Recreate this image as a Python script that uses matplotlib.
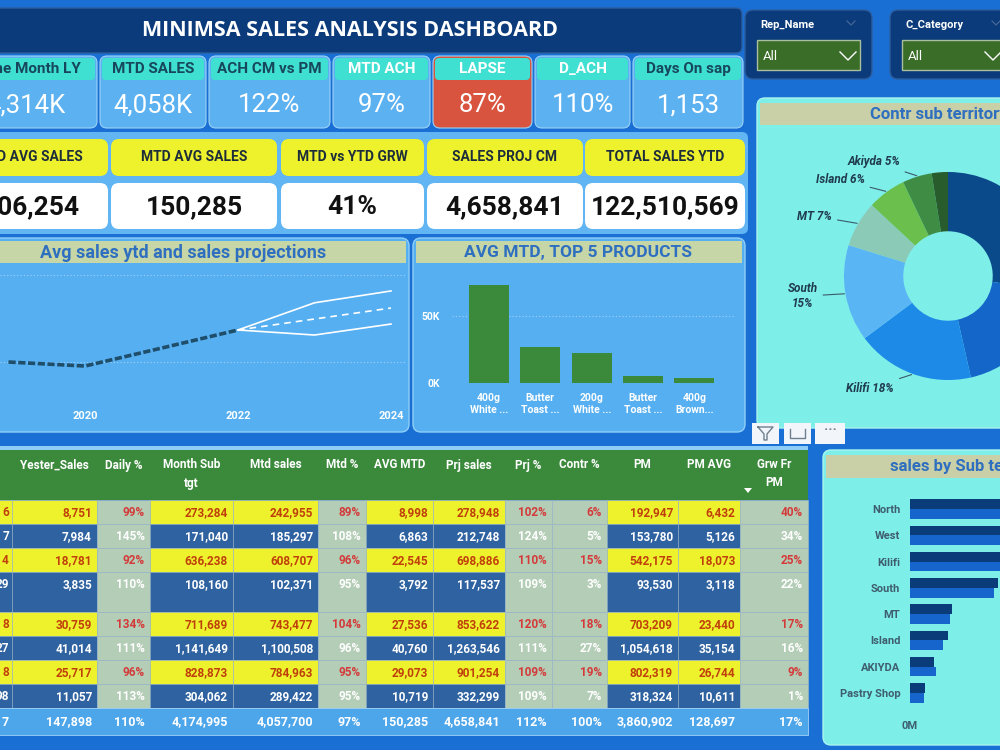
import matplotlib
matplotlib.use("Agg")
import matplotlib.pyplot as plt
from matplotlib.patches import FancyBboxPatch, Polygon
from matplotlib.lines import Line2D
from matplotlib.transforms import Affine2D
import numpy as np

plt.rcParams['font.family'] = ['Roboto', 'DejaVu Sans']

# ---------------- data ----------------
kpi_titles = ["Same Month LY", "MTD SALES", "ACH CM vs PM", "MTD ACH", "LAPSE", "D_ACH", "Days On sap"]
kpi_values = ["4,314K", "4,058K", "122%", "97%", "87%", "110%", "1,153"]

kpi2_titles = ["YTD AVG SALES", "MTD AVG SALES", "MTD vs YTD GRW", "SALES PROJ CM", "TOTAL SALES YTD"]
kpi2_values = ["106,254", "150,285", "41%", "4,658,841", "122,510,569"]

# avg sales ytd (K) and projection band
years = [2019, 2020, 2021, 2022]
avg_sales_ytd = [50.0, 47.7, 58.0, 68.4]
proj_years = [2022, 2023, 2024]
proj_upper = [68.4, 84.0, 90.8]
proj_mid = [68.4, 74.7, 81.0]
proj_lower = [68.4, 65.5, 71.8]
line_ticks = [2020, 2022, 2024]

products = ["400g\nWhite ...", "Butter\nToast ...", "200g\nWhite ...", "Butter\nToast ...", "400g\nBrown..."]
avg_mtd_top5 = [73200, 27000, 22800, 5300, 4000]

# table rows (sub territories in table order)
territory = ["Island", "AKIYDA", "South", "Pastry Shop", "Kilifi", "North", "West", "MT"]
donut_name = {"Island": "Island", "AKIYDA": "Akiyda", "South": "South", "Pastry Shop": "Pastry Shop",
              "Kilifi": "Kilifi", "North": "North", "West": "West", "MT": "MT"}
first_col_cut = ["6", "7", "4", "29", "8", "27", "8", "98"]
yester_sales = [8751, 7984, 18781, 3835, 30759, 41014, 25717, 11057]
daily_pct = [99, 145, 92, 110, 134, 111, 96, 113]
month_sub_tgt = [273284, 171040, 636238, 108160, 711689, 1141649, 828873, 304062]
mtd_sales = [242955, 185297, 608707, 102371, 743477, 1100508, 784963, 289422]
mtd_pct = [89, 108, 96, 95, 104, 96, 95, 95]
avg_mtd = [8998, 6863, 22545, 3792, 27536, 40760, 29073, 10719]
prj_sales = [278948, 212748, 698886, 117537, 853622, 1263546, 901254, 332299]
prj_pct = [102, 124, 110, 109, 120, 111, 109, 109]
contr_pct = [6, 5, 15, 3, 18, 27, 19, 7]
pm = [192947, 153780, 542175, 93530, 703209, 1054618, 802319, 318324]
pm_avg = [6432, 5126, 18073, 3118, 23440, 35154, 26744, 10611]
grw_fr_pm = [40, 34, 25, 22, 17, 16, 9, 1]
total_row = ["7", "147,898", "110%", "4,174,995", "4,057,700", "97%", "150,285",
             "4,658,841", "112%", "100%", "3,860,902", "128,697", "17%"]
table_headers = ["", "Yester_Sales", "Daily %", "Month Sub\ntgt", "Mtd sales", "Mtd %", "AVG MTD",
                 "Prj sales", "Prj %", "Contr %", "PM", "PM AVG", "Grw Fr\nPM"]

# ---------------- style ----------------
BG = '#1a6fd5'
NAVY = '#0b3b7a'
CARD = '#5cb1f1'
TURQ = '#3fe0d2'
LAPSE_RED = '#d9543f'
YEL = '#eef22c'
PANEL = '#56aff1'
STRIP = '#c7d6a6'
AQUA = '#7eeee9'
TITLE_BLUE = '#2e6fc0'
GREEN = '#3b8a3c'
SAGE = '#b4cdb6'
ROW_BLUE = '#2f62a0'
ROW_TXT = '#c0400c'
PCT_RED = '#d43a3a'

W, H = 1000, 750
fig = plt.figure(figsize=(10, 7.5), dpi=100)
fig.patch.set_facecolor(BG)
px = Affine2D().scale(1 / W, -1 / H).translate(0, 1) + fig.transFigure


def rect(x0, y0, x1, y1, fc, r=0, ec='none', lw=0, z=1):
    style = "round,pad=0,rounding_size=%s" % r if r else "square,pad=0"
    p = FancyBboxPatch((x0, y0), x1 - x0, y1 - y0, boxstyle=style, transform=px,
                       fc=fc, ec=ec, lw=lw, zorder=z)
    fig.add_artist(p)


def txt(x, y, s, size, color, weight='bold', ha='center', va='center', z=10, **kw):
    fig.text(x, y, s, transform=px, fontsize=size, color=color, fontweight=weight,
             ha=ha, va=va, zorder=z, **kw)


def poly(xs, ys, color, lw=1.2, z=11):
    fig.add_artist(Line2D(xs, ys, transform=px, color=color, lw=lw, zorder=z))


def add_ax(x0, y0, x1, y1):
    ax = fig.add_axes([x0 / W, 1 - y1 / H, (x1 - x0) / W, (y1 - y0) / H])
    ax.set_zorder(5)
    ax.patch.set_alpha(0)
    return ax


# ---------------- header ----------------
rect(-10, 8, 742, 53, NAVY, r=6, ec='#2c5e9e', lw=1)
txt(350, 31, "MINIMSA SALES ANALYSIS DASHBOARD", 15.5, 'white', family=['Open Sans', 'DejaVu Sans'])

# slicers
for (x0, x1, label) in [(745, 872, "Rep_Name"), (890, 1015, "C_Category")]:
    rect(x0, 10, x1, 79, NAVY, r=8, ec='#2c5e9e', lw=1)
    txt(x0 + 15, 25, label, 8, 'white', ha='left')
    rect(x0 + 12, 40, x0 + 115, 70, '#3a6e28', ec='#a9bfa0', lw=1, z=2)
    txt(x0 + 18, 56, "All", 9.5, 'white', weight='normal', ha='left')
    cx = x0 + 103
    poly([cx - 8, cx, cx + 8], [52, 60, 52], 'white', lw=1)
    poly([x0 + 102, x0 + 106, x0 + 110], [21, 25, 21], '#4a6a9a', lw=0.8)

# KPI row 1
cards = [(-45, 97), (100, 206), (209, 330), (333, 430), (433, 532), (535, 630), (633, 743)]
for i, (x0, x1) in enumerate(cards):
    body = LAPSE_RED if kpi_titles[i] == "LAPSE" else CARD
    rect(x0, 56, x1, 128, body, r=7, ec='#9ad3f7', lw=0.8)
    rect(x0 + 2, 58, x1 - 2, 80, TURQ, r=4, z=2)
    tcol = 'white' if i in (3, 4, 5) else '#17475a'
    txt((x0 + x1) / 2, 69, kpi_titles[i], 11, tcol)
    txt((x0 + x1) / 2, 105, kpi_values[i], 18.5, 'white', weight='normal')

# KPI row 2
rect(-10, 132, 748, 234, '#61b5f3', r=6)
boxes2 = [(-46, 108), (111, 277), (281, 424), (427, 583), (585, 745)]
for i, (x0, x1) in enumerate(boxes2):
    rect(x0, 139, x1, 176, YEL, r=8, z=2)
    txt((x0 + x1) / 2, 157, kpi2_titles[i], 10, '#1e2d3a')
    rect(x0, 183, x1, 229, 'white', r=8, z=2)
    txt((x0 + x1) / 2, 207, kpi2_values[i], 19, '#111111')

# ---------------- line chart ----------------
rect(-10, 238, 409, 432, PANEL, r=8, ec='#8fd0f8', lw=1)
rect(-8, 241, 406, 263, STRIP, z=2)
txt(183, 253, "Avg sales ytd and sales projections", 13, TITLE_BLUE)

ax = add_ax(0, 265, 405, 400)
ax.plot(years, avg_sales_ytd, color='#1f4e6b', lw=2.6, linestyle=(0, (2, 0.7)))
ax.plot(proj_years, proj_upper, color='white', lw=1.2)
ax.plot(proj_years, proj_lower, color='white', lw=1.2)
ax.plot(proj_years, proj_mid, color='white', lw=1.2, linestyle=(0, (4, 3)))
ax.set_xlim(2018.889, 2024.183)
ax.set_ylim(28.2, 105.7)
ax.set_yticks([50, 100])
ax.set_yticklabels([])
ax.set_xticks(line_ticks)
ax.tick_params(axis='x', colors='white', labelsize=8, length=0, pad=8)
ax.tick_params(axis='y', length=0)
for t in ax.get_xticklabels():
    t.set_fontweight('bold')
ax.grid(axis='y', color='#9fd2f8', lw=0.8, linestyle=(0, (1, 2)))
for s in ax.spines.values():
    s.set_visible(False)

# ---------------- top 5 products ----------------
rect(413, 238, 745, 432, PANEL, r=8, ec='#8fd0f8', lw=1)
rect(416, 241, 742, 263, STRIP, z=2)
txt(578, 253, "AVG MTD, TOP 5 PRODUCTS", 12.5, TITLE_BLUE)

ax2 = add_ax(452, 270, 735, 383)
ax2.bar(range(len(products)), avg_mtd_top5, width=0.78, color='#3b8a3c')
ax2.set_xlim(-0.72, 4.79)
ax2.set_ylim(0, 84700)
ax2.set_yticks([0, 50000])
ax2.set_yticklabels(["0K", "50K"])
ax2.set_xticks(range(len(products)))
ax2.set_xticklabels(products, linespacing=1.3)
ax2.tick_params(colors='white', labelsize=7.5, length=0)
ax2.tick_params(axis='x', pad=7)
ax2.tick_params(axis='y', pad=9)
for t in ax2.get_xticklabels() + ax2.get_yticklabels():
    t.set_fontweight('bold')
ax2.grid(axis='y', color='#9fd2f8', lw=0.8, linestyle=(0, (1, 2)))
ax2.set_axisbelow(True)
for s in ax2.spines.values():
    s.set_visible(False)

# ---------------- donut ----------------
rect(757, 98, 1015, 428, AQUA, r=8, ec='#a8f5f0', lw=1)
rect(760, 103, 1015, 125, '#c9cfa6', z=2)
txt(870, 114, "Contr sub territory", 12, TITLE_BLUE, ha='left')

order = np.argsort(month_sub_tgt)[::-1]
donut_colors = ['#0b4a8a', '#1467c8', '#1e8ae8', '#5ab5f4', '#8ccab8', '#6abf4d', '#3f8d45', '#285c2c']
ax3 = add_ax(798, 126, 1098, 426)
vals = [mtd_sales[i] for i in order]
ax3.pie(vals, radius=1, startangle=90, counterclock=False, colors=donut_colors,
        wedgeprops=dict(width=0.57, edgecolor='none'))
ax3.set_xlim(-1.442, 1.442)
ax3.set_ylim(-1.442, 1.442)
ax3.set_aspect('equal')
ax3.axis('off')
cum = 0.0
total = float(sum(vals))
for k, i in enumerate(order):
    frac = mtd_sales[i] / total
    mid = np.deg2rad(90 - 360 * (cum + frac / 2))
    cum += frac
    if contr_pct[i] < 4:
        continue
    ox, oy = np.cos(mid), np.sin(mid)
    side = -1 if ox < 0 else 1
    tx, ty = 1.15 * ox + 0.12 * side, 1.15 * oy
    name = donut_name[territory[i]]
    sep = "\n" if name == "South" else " "
    ha = 'right' if side < 0 else 'left'
    ax3.annotate(f"{name}{sep}{contr_pct[i]}%", xy=(ox * 1.01, oy * 1.01), xytext=(tx, ty),
                 ha=ha, va='center', fontsize=8.5, fontweight='bold', fontstyle='italic',
                 color='#1f3b4d', multialignment='center', annotation_clip=False,
                 arrowprops=dict(arrowstyle='-', color='#3b5a68', lw=0.8, shrinkA=2, shrinkB=0))

# small visual header icons
for (x0, x1) in [(752, 779), (784, 811), (815, 845)]:
    rect(x0, 423, x1, 444, '#f2f6fa', z=3)
poly([758, 773, 767, 767, 764, 764, 758], [427, 427, 434, 440, 440, 434, 427], '#6f7f8f', lw=1)
poly([790, 790, 805, 805], [429, 438, 438, 429], '#6f7f8f', lw=1)
txt(830, 430, "···", 10, '#6f7f8f')

# ---------------- table ----------------
xb = [-60, 12, 97, 150, 233, 318, 366, 433, 505, 552, 607, 678, 740, 808]
yb = [500, 524, 548, 572, 612, 636, 660, 684, 708, 735]
pct_cols = {2, 5, 8, 9, 12}
rect(-10, 446, 808, 450, '#8fcdf7', z=1)
rect(-10, 450, 808, 500, GREEN, z=1)
for c, h in enumerate(table_headers):
    if not h:
        continue
    cy = 474 if "\n" in h else 465
    txt((xb[c] + xb[c + 1]) / 2, cy, h, 8.5, 'white', linespacing=1.5)
fig.add_artist(Polygon([[744, 488], [752, 488], [748, 493]], closed=True, transform=px,
                       fc='white', ec='none', zorder=11))

columns = [first_col_cut,
           [f"{v:,}" for v in yester_sales],
           [f"{v}%" for v in daily_pct],
           [f"{v:,}" for v in month_sub_tgt],
           [f"{v:,}" for v in mtd_sales],
           [f"{v}%" for v in mtd_pct],
           [f"{v:,}" for v in avg_mtd],
           [f"{v:,}" for v in prj_sales],
           [f"{v}%" for v in prj_pct],
           [f"{v}%" for v in contr_pct],
           [f"{v:,}" for v in pm],
           [f"{v:,}" for v in pm_avg],
           [f"{v}%" for v in grw_fr_pm]]

for r in range(len(territory)):
    y0, y1 = yb[r], yb[r + 1]
    yellow = (r % 2 == 0)
    for c in range(len(columns)):
        if c in pct_cols:
            fc = SAGE
            tc = PCT_RED if yellow else 'white'
        else:
            fc = YEL if yellow else ROW_BLUE
            tc = ROW_TXT if yellow else 'white'
        rect(xb[c], y0, xb[c + 1], y1, fc, ec='#9fb8c8', lw=0.4, z=1)
        rx = xb[c + 1] - (3 if c == 0 else 5)
        txt(rx, y0 + 12.5, columns[c][r], 8.5, tc, ha='right')

rect(-10, yb[-2], 808, yb[-1], '#4ea6ea', ec='#9fd2f8', lw=0.6, z=1)
for c, v in enumerate(total_row):
    rx = xb[c + 1] - (3 if c == 0 else 5)
    txt(rx, 722, v, 9, 'white', ha='right')

# ---------------- sales by sub territory ----------------
rect(823, 450, 1015, 745, AQUA, r=8, ec='#a8f5f0', lw=1)
rect(826, 455, 1015, 478, '#c9cfa6', z=2)
txt(890, 466, "sales by Sub territory", 12, TITLE_BLUE, ha='left')

ax4 = add_ax(910, 496, 1000, 706)
pos = np.arange(len(order))
ax4.barh(pos - 0.185, [month_sub_tgt[i] for i in order], height=0.37, color='#0b3c7a')
ax4.barh(pos + 0.185, [mtd_sales[i] for i in order], height=0.37, color='#1565cc')
ax4.set_ylim(len(order) - 0.5, -0.5)
ax4.set_xlim(0, 653000)
ax4.set_yticks(pos)
ax4.set_yticklabels([territory[i] for i in order])
ax4.set_xticks([0])
ax4.set_xticklabels(["0M"])
ax4.tick_params(colors='#3e5d6d', labelsize=8, length=0)
ax4.tick_params(axis='y', pad=7)
ax4.tick_params(axis='x', pad=11)
for t in ax4.get_xticklabels() + ax4.get_yticklabels():
    t.set_fontweight('bold')
for s in ax4.spines.values():
    s.set_visible(False)

fig.savefig("out.png", dpi=100, facecolor=fig.get_facecolor())
